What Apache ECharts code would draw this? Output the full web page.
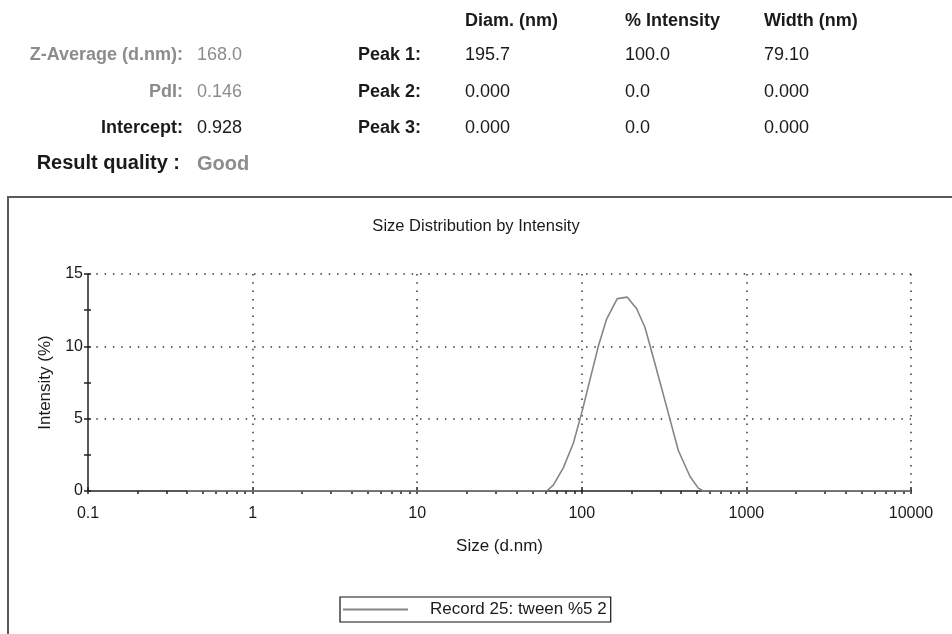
<!DOCTYPE html>
<html>
<head>
<meta charset="utf-8">
<script src="https://cdn.jsdelivr.net/npm/echarts@6/dist/echarts.min.js"></script>
<style>
html, body { margin: 0; padding: 0; background: #fff; }
#chart { width: 952px; height: 634px; }
</style>
</head>
<body>
<div id="chart"></div>
<script>
// size (d.nm) / intensity (%)
var sizes = [0.4, 61.2, 67.1, 77.2, 88.8, 99.9, 112.1, 126.0, 141.7, 164.3, 189.0, 215.5, 242.1, 278.4, 328.0, 385.8, 454.4, 510.3, 547.1, 10000]
var intensity = [0, 0, 0.4, 1.6, 3.3, 5.4, 7.7, 10.0, 11.9, 13.3, 13.4, 12.6, 11.3, 8.8, 5.8, 2.8, 1.0, 0.2, 0, 0]
var xMajor = [0.1, 1, 10, 100, 1000, 10000]
var yTicks = [0, 5, 10, 15]

// header table
var colHeads = ["Diam. (nm)", "% Intensity", "Width (nm)"]
var peakNames = ["Peak 1:", "Peak 2:", "Peak 3:"]
var peakDiam = ["195.7", "0.000", "0.000"]
var peakInt = ["100.0", "0.0", "0.0"]
var peakWidth = ["79.10", "0.000", "0.000"]
var seriesName = "Record 25: tween %5 2"

var xMinor = []
xMajor.slice(0, -1).forEach(function(d) {
	for (var k = 1; k < 10; k++) xMinor.push(+(d * k).toPrecision(3))
})
xMinor.push(10000)

var FONT = '"Liberation Sans", Arial, sans-serif'
var GRAY = "#8c8c8c"
var INK = "#1a1a1a"

function txt(x, y, s, opt) {
	opt = opt || {}
	return {
		type: "text",
		x: x,
		y: y,
		style: {
			text: s,
			font: (opt.bold ? "bold " : "") + (opt.size || 18) + "px " + FONT,
			fill: opt.color || INK,
			align: opt.align || "left",
			verticalAlign: "middle"
		}
	}
}

var graphics = [
	{
		type: "rect",
		shape: { x: 8, y: 197, width: 960, height: 480 },
		style: { fill: "none", stroke: "#5a5a5a", lineWidth: 2 },
		z: -10
	},
	txt(183, 55, "Z-Average (d.nm):", { bold: true, color: GRAY, align: "right" }),
	txt(197, 55, "168.0", { color: GRAY }),
	txt(183, 92, "PdI:", { bold: true, color: GRAY, align: "right" }),
	txt(197, 92, "0.146", { color: GRAY }),
	txt(183, 128, "Intercept:", { bold: true, align: "right" }),
	txt(197, 128, "0.928"),
	txt(180, 163, "Result quality :", { bold: true, size: 20, align: "right" }),
	txt(197, 164, "Good", { bold: true, size: 20, color: GRAY }),
	txt(476, 226, "Size Distribution by Intensity", { size: 16.5, align: "center" })
]
var colX = [465, 625, 764]
colHeads.forEach(function(h, i) {
	graphics.push(txt(colX[i], 21, h, { bold: true }))
})
peakNames.forEach(function(p, i) {
	var y = [55, 92, 128][i]
	graphics.push(txt(358, y, p, { bold: true }))
	graphics.push(txt(colX[0], y, peakDiam[i]))
	graphics.push(txt(colX[1], y, peakInt[i]))
	graphics.push(txt(colX[2], y, peakWidth[i]))
})

var dotted = { type: [1.5, 6.8], color: "#333", width: 1.5 }

var option = {
	animation: false,
	backgroundColor: "#fff",
	textStyle: { fontFamily: FONT },
	grid: { left: 88, right: 41, top: 274, bottom: 143 },
	legend: {
		left: 340,
		top: 597,
		padding: [4, 4, 4, 3],
		borderColor: "#111",
		borderWidth: 1.2,
		backgroundColor: "#fff",
		itemWidth: 65,
		itemHeight: 2,
		icon: "rect",
		textStyle: { fontSize: 17, color: INK, padding: [0, 0, 0, 17] },
		data: [seriesName]
	},
	xAxis: [
		{
			type: "log",
			logBase: 10,
			min: 0.1,
			max: 10000,
			position: "bottom",
			name: "Size (d.nm)",
			nameLocation: "middle",
			nameGap: 47,
			nameTextStyle: { fontSize: 17, color: INK },
			axisLine: { show: true, onZero: false, lineStyle: { color: "#222", width: 1.5 } },
			axisTick: { show: true, length: 3, customValues: xMinor, lineStyle: { color: "#222", width: 1.5 } },
			axisLabel: {
				margin: 15,
				fontSize: 16,
				color: INK,
				customValues: xMajor,
				formatter: function(v) { return String(v) }
			},
			splitLine: { show: false }
		},
		{
			type: "log",
			logBase: 10,
			min: 0.1,
			max: 10000,
			position: "bottom",
			offset: 0,
			axisLine: { show: false },
			axisTick: { show: true, inside: true, length: 4, customValues: xMajor, lineStyle: { color: "#222", width: 1.5 } },
			axisLabel: { show: false },
			splitLine: { show: true, showMinLine: false, lineStyle: dotted }
		}
	],
	yAxis: [
		{
			type: "value",
			min: 0,
			max: 15,
			interval: 5,
			name: "Intensity (%)",
			nameLocation: "middle",
			nameGap: 34,
			nameTextStyle: { fontSize: 17, color: INK },
			axisLine: { show: true, lineStyle: { color: "#222", width: 1.5 } },
			axisTick: { show: true, length: 4, lineStyle: { color: "#222", width: 1.5 } },
			minorTick: { show: true, splitNumber: 2, length: 4, lineStyle: { color: "#222", width: 1.5 } },
			axisLabel: { margin: 5, fontSize: 16, color: INK, customValues: yTicks },
			splitLine: { show: true, showMinLine: false, lineStyle: dotted }
		},
		{
			type: "value",
			min: 0,
			max: 15,
			interval: 5,
			position: "left",
			offset: 0,
			axisLine: { show: false },
			axisTick: { show: true, inside: true, length: 3, lineStyle: { color: "#222", width: 1.5 } },
			minorTick: { show: true, splitNumber: 2, length: 3, lineStyle: { color: "#222", width: 1.5 } },
			axisLabel: { show: false },
			splitLine: { show: false }
		}
	],
	graphic: graphics,
	series: [
		{
			name: seriesName,
			type: "line",
			xAxisIndex: 0,
			yAxisIndex: 0,
			data: sizes.map(function(s, i) { return [s, intensity[i]] }),
			showSymbol: false,
			symbol: "none",
			color: "#858585",
			lineStyle: { color: "#858585", width: 1.6 },
			z: 5
		}
	]
}

var myChart = echarts.init(document.getElementById("chart"))
myChart.setOption(option)
</script>
</body>
</html>
